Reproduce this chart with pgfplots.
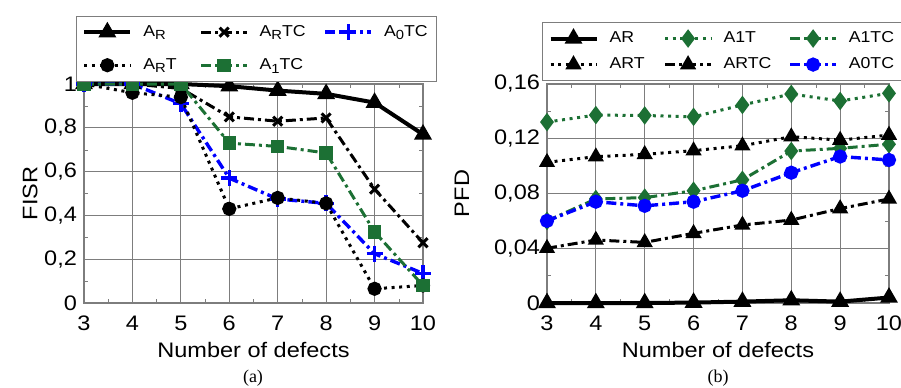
\documentclass[border=0pt]{standalone}
\usepackage{fontspec}
\setmainfont{Liberation Sans}[FakeStretch=1.12]
\newfontfamily\seriffont{Liberation Serif}
\usepackage{pgfplots}
\pgfplotsset{compat=1.18}
\newcommand\sub[1]{\raisebox{-0.45ex}{\fontsize{6.6}{7}\selectfont #1}}
\definecolor{dgreen}{RGB}{28,112,52}
\definecolor{gridgray}{RGB}{125,125,125}
\tikzset{
  dashdot/.style={dash pattern=on 5pt off 2pt on 1.5pt off 2pt},
  dotty/.style={dash pattern=on 1.5pt off 2.3pt},
}
\pgfplotsset{
  myaxis/.style={
    scale only axis,
    height=109.5pt,
    xmin=3, xmax=10,
    xtick={3,...,10},
    minor x tick num=1,
    minor y tick num=1,
    grid=major,
    major grid style={gridgray, line width=0.6pt},
    axis line style={gridgray, line width=0.6pt},
    major tick length=0pt,
    minor tick length=2pt,
    minor tick style={gridgray},
    tick align=inside,
    ticklabel style={font=\fontsize{10.5}{12}\selectfont},
    xticklabel style={yshift=-3pt},
    label style={font=\fontsize{10.5}{12}\selectfont},
    /pgf/number format/assume math mode=true,
    /pgf/number format/use comma,
    scaled y ticks=false,
    clip=false,
    legend columns=3,
    legend cell align=left,
    legend style={draw=gridgray, line width=0.5pt, font=\fontsize{7.9}{9}\selectfont,
      inner xsep=3pt, inner ysep=3pt,
      /tikz/every odd column/.append style={column sep=4pt},
      nodes={inner sep=1.5pt}},
    legend image code/.code={\draw[mark repeat=2,mark phase=2,##1] plot coordinates {(0pt,0pt) (11.5pt,0pt) (23pt,0pt)};},
    xlabel style={at={(axis description cs:0.5,-0.215)}, anchor=center},
  }
}
\begin{document}
\begin{tikzpicture}
\useasboundingbox (0,0) rectangle (450.5pt,193.5pt);
% ---------- (a) ----------
\begin{axis}[myaxis,
  at={(42pt,42pt)}, anchor=south west,
  width=169.5pt,
  ymin=0, ymax=1,
  ytick={0,0.2,0.4,0.6,0.8,1},
  xlabel={Number of defects},
  ylabel={FISR},
  ylabel style={at={(axis description cs:-0.159,0.5)}, anchor=center},
  legend style={at={(axis description cs:-0.024,1.312)}, anchor=north west,
    row sep=6.5pt,
    /tikz/column 2/.style={column sep=10pt},
    /tikz/column 4/.style={column sep=7.5pt}},
]
\addplot[black, line width=2pt, mark=triangle*, mark size=3.2pt, mark options={solid}]
  coordinates {(3,1) (4,1) (5,1) (6,0.99) (7,0.97) (8,0.955) (9,0.915) (10,0.77)};
\addlegendentry{A\sub{R}}
\addplot[black, line width=1.5pt, dashdot, mark=x, mark size=3.2pt, mark options={solid, line width=1.5pt}]
  coordinates {(3,1) (4,1) (5,0.98) (6,0.85) (7,0.83) (8,0.845) (9,0.52) (10,0.275)};
\addlegendentry{A\sub{R}TC}
\addplot[blue, line width=1.7pt, dashdot, mark=+, mark size=4pt, mark options={solid, line width=1.7pt}]
  coordinates {(3,1) (4,1) (5,0.91) (6,0.57) (7,0.475) (8,0.455) (9,0.225) (10,0.135)};
\addlegendentry{A\sub{0}TC}
\addplot[black, line width=1.5pt, dotty, mark=*, mark size=2.8pt, mark options={solid}]
  coordinates {(3,1) (4,0.96) (5,0.94) (6,0.43) (7,0.48) (8,0.455) (9,0.065) (10,0.08)};
\addlegendentry{A\sub{R}T}
\addplot[dgreen, line width=1.5pt, dashdot, mark=square*, mark size=2.6pt, mark options={solid}]
  coordinates {(3,1) (4,1) (5,1) (6,0.73) (7,0.715) (8,0.685) (9,0.325) (10,0.08)};
\addlegendentry{A\sub{1}TC}
\end{axis}
\node[font=\seriffont\fontsize{9}{10}\selectfont] at (126.5pt,4.5pt) {(a)};
% ---------- (b) ----------
\begin{axis}[myaxis,
  at={(273.5pt,42pt)}, anchor=south west,
  width=171pt,
  ymin=0, ymax=0.16,
  ytick={0,0.04,0.08,0.12,0.16},
  yticklabel style={/pgf/number format/fixed, /pgf/number format/precision=2},
  xlabel={Number of defects},
  ylabel={PFD},
  ylabel style={at={(axis description cs:-0.249,0.5)}, anchor=center},
  legend style={at={(axis description cs:-0.0146,1.283)}, anchor=north west,
    row sep=3pt,
    /tikz/column 2/.style={column sep=8pt},
    /tikz/column 4/.style={column sep=7pt}},
]
\addplot[black, line width=2pt, mark=triangle*, mark size=3.2pt, mark options={solid}]
  coordinates {(3,0) (4,0) (5,0) (6,0.0003) (7,0.001) (8,0.002) (9,0.001) (10,0.004)};
\addlegendentry{AR}
\addplot[dgreen, line width=1.5pt, dotty, mark=diamond*, mark size=3.4pt, mark options={solid}]
  coordinates {(3,0.1322) (4,0.1373) (5,0.137) (6,0.136) (7,0.1447) (8,0.1527) (9,0.1476) (10,0.1532)};
\addlegendentry{A1T}
\addplot[dgreen, line width=1.5pt, dashdot, mark=diamond*, mark size=3.4pt, mark options={solid}]
  coordinates {(3,0.060) (4,0.076) (5,0.077) (6,0.082) (7,0.090) (8,0.111) (9,0.113) (10,0.116)};
\addlegendentry{A1TC}
\addplot[black, line width=1.5pt, dotty, mark=triangle*, mark size=3.2pt, mark options={solid}]
  coordinates {(3,0.1028) (4,0.1069) (5,0.1086) (6,0.1113) (7,0.1149) (8,0.1215) (9,0.119) (10,0.1227)};
\addlegendentry{ART}
\addplot[black, line width=1.5pt, dashdot, mark=triangle*, mark size=3.2pt, mark options={solid}]
  coordinates {(3,0.040) (4,0.046) (5,0.0443) (6,0.0509) (7,0.057) (8,0.0606) (9,0.069) (10,0.076)};
\addlegendentry{ARTC}
\addplot[blue, line width=1.7pt, dashdot, mark=*, mark size=2.7pt, mark options={solid}]
  coordinates {(3,0.060) (4,0.074) (5,0.071) (6,0.074) (7,0.082) (8,0.0952) (9,0.107) (10,0.1045)};
\addlegendentry{A0TC}
\end{axis}
\node[font=\seriffont\fontsize{9}{10}\selectfont] at (359pt,4.5pt) {(b)};
\end{tikzpicture}
\end{document}
